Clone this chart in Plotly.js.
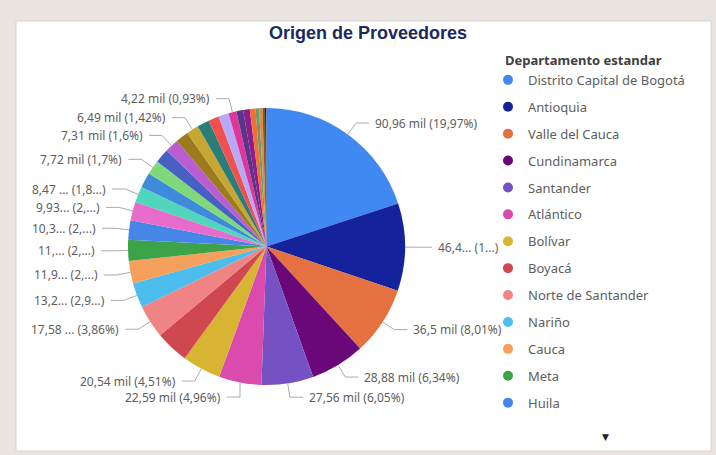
<!DOCTYPE html>
<html><head><meta charset="utf-8">
<script src="https://cdn.plot.ly/plotly-3.0.1.min.js"></script>
<style>html,body{margin:0;padding:0;background:#fff;} #chart{width:716px;height:455px;}</style>
</head><body><div id="chart"></div>
<script>
const departamentos = ['Distrito Capital de Bogotá','Antioquia','Valle del Cauca','Cundinamarca','Santander','Atlántico','Bolívar','Boyacá','Norte de Santander','Nariño','Cauca','Meta','Huila',
  'Tolima','Risaralda','Caldas','Quindío','Magdalena','Córdoba','Sucre','Cesar','Casanare','La Guajira','Caquetá','Putumayo','Chocó','Arauca','San Andrés','Amazonas','Guaviare','Vichada','Guainía','Vaupés'];
const valores = [90.96,46.4,36.5,28.88,27.56,22.59,20.54,17.7,17.58,13.2,11.9,11.2,10.3,
  9.93,8.47,8.0,7.72,7.5,7.31,6.9,6.49,6.45,5.7,5.4,4.22,3.6,3.5,3.0,1.9,1.8,1.3,0.6,0.2];
const etiquetas = ['90,96 mil (19,97%)','46,4... (1...)','36,5 mil (8,01%)','28,88 mil (6,34%)','27,56 mil (6,05%)','22,59 mil (4,96%)','20,54 mil (4,51%)','','17,58 ... (3,86%)','13,2... (2,9...)','11,9... (2,...)','11,... (2,...)','10,3... (2,...)',
  '9,93... (2,...)','8,47 ... (1,8...)','','7,72 mil (1,7%)','','7,31 mil (1,6%)','','6,49 mil (1,42%)','','','','4,22 mil (0,93%)','','','','','','','',''];
const colores = ['#4189F2','#14239C','#E4713F','#6A087A','#7551C4','#DB4BAE','#D7B432','#CF4850','#F08383','#4DBDEE','#F5A05B','#3DA349','#4586E8',
  '#E86CCB','#4FD6BD','#3E8ADB','#7DD97A','#4860C4','#B85ED0','#9C7A1E','#C8A634','#2A7E78','#F05050','#B8A8F8','#E0359B','#563686','#8E1C8C','#F2702E','#6C9A70','#D88C48','#7E5A30','#222222','#2F4F8F'];
const tituloGrafico = 'Origen de Proveedores';
const tituloLeyenda = 'Departamento estandar';
const itemsLeyenda = 13;

const W = 716, H = 455;
const cx = 266.5, cy = 246.5, r = 138.5;
const px = x => x / W, py = y => 1 - y / H;
const txtFont = {family: 'Noto Sans, Open Sans, sans-serif', size: 12, color: '#605E5C'};

const traces = [{
  type: 'pie', labels: departamentos, values: valores, sort: false, direction: 'clockwise', rotation: 0,
  marker: {colors: colores, line: {width: 0}}, textinfo: 'none', hoverinfo: 'label+value+percent',
  showlegend: false, domain: {x: [px(cx - r), px(cx + r)], y: [py(cy + r), py(cy - r)]}
}];
for (let i = 0; i < itemsLeyenda; i++) {
  traces.push({type: 'scatter', mode: 'markers', x: [null], y: [null], name: departamentos[i],
    legendgroup: 'g' + i, marker: {color: colores[i], size: 10, symbol: 'circle'}, hoverinfo: 'skip'});
}

// data labels with leader lines computed from slice angles
const total = valores.reduce((a, b) => a + b, 0);
const L = 14, gap = 16;
const labs = [];
let acc = 0;
valores.forEach((v, i) => {
  const a0 = acc / total * 2 * Math.PI; acc += v; const a1 = acc / total * 2 * Math.PI;
  if (!etiquetas[i]) return;
  const m = (a0 + a1) / 2;
  labs.push({i, side: Math.sin(m) >= 0 ? 1 : -1, ex: cx + r * Math.sin(m), ey: cy - r * Math.cos(m), y: cy - (r + L) * Math.cos(m)});
});
[1, -1].forEach(side => {
  const it = labs.filter(d => d.side === side).sort((a, b) => a.y - b.y);
  for (let k = 1; k < it.length; k++) if (it[k].y < it[k - 1].y + gap) it[k].y = it[k - 1].y + gap;
  const maxY = 405;
  if (it.length && it[it.length - 1].y > maxY) {
    it[it.length - 1].y = maxY;
    for (let k = it.length - 2; k >= 0; k--) if (it[k].y > it[k + 1].y - gap) it[k].y = it[k + 1].y - gap;
  }
});
const shapes = [{type: 'rect', xref: 'paper', yref: 'paper', x0: px(16), x1: px(711), y0: py(451), y1: py(21),
  fillcolor: '#FFFFFF', line: {color: '#D6D3D0', width: 1}, layer: 'below'}];
const annotations = [];
labs.forEach(d => {
  const R = r + L, dy = d.y - cy;
  let bx = Math.abs(dy) < R ? cx + d.side * Math.sqrt(R * R - dy * dy) : d.ex;
  if (d.side * (bx - d.ex) < 0) bx = d.ex;
  const hx = bx + d.side * 13;
  shapes.push({type: 'path', xref: 'paper', yref: 'paper',
    path: `M${px(d.ex)},${py(d.ey)} L${px(bx)},${py(d.y)} L${px(hx)},${py(d.y)}`,
    line: {color: '#ABABAB', width: 1}});
  annotations.push({xref: 'paper', yref: 'paper', x: px(hx + d.side * 4), y: py(d.y), text: etiquetas[d.i],
    xanchor: d.side > 0 ? 'left' : 'right', yanchor: 'middle', showarrow: false, font: txtFont});
});
annotations.push({xref: 'paper', yref: 'paper', x: px(605), y: py(437), text: '▼', showarrow: false,
  font: {family: 'DejaVu Sans', size: 9, color: '#252423'}, xanchor: 'center', yanchor: 'middle'});

const layout = {
  width: W, height: H, margin: {l: 0, r: 0, t: 0, b: 0},
  paper_bgcolor: '#E9E4E0', plot_bgcolor: 'rgba(0,0,0,0)',
  separators: ',.',
  title: {text: '<b>' + tituloGrafico + '</b>', x: px(368), xanchor: 'center', y: py(33), yanchor: 'middle',
    font: {family: 'Liberation Sans, Arial, sans-serif', size: 18, color: '#1B2A5E'}},
  xaxis: {visible: false}, yaxis: {visible: false},
  showlegend: true,
  legend: {x: px(503), y: py(48), xanchor: 'left', yanchor: 'top', bgcolor: 'rgba(0,0,0,0)', tracegroupgap: 7,
    indentation: -15,
    title: {text: '<b>' + tituloLeyenda + '</b>', font: {family: 'Noto Sans, Open Sans, sans-serif', size: 13, color: '#404040'}},
    font: {family: 'Noto Sans, Open Sans, sans-serif', size: 13, color: '#605E5C'}},
  shapes, annotations
};
Plotly.newPlot('chart', traces, layout, {displayModeBar: false, staticPlot: true});
</script></body></html>
